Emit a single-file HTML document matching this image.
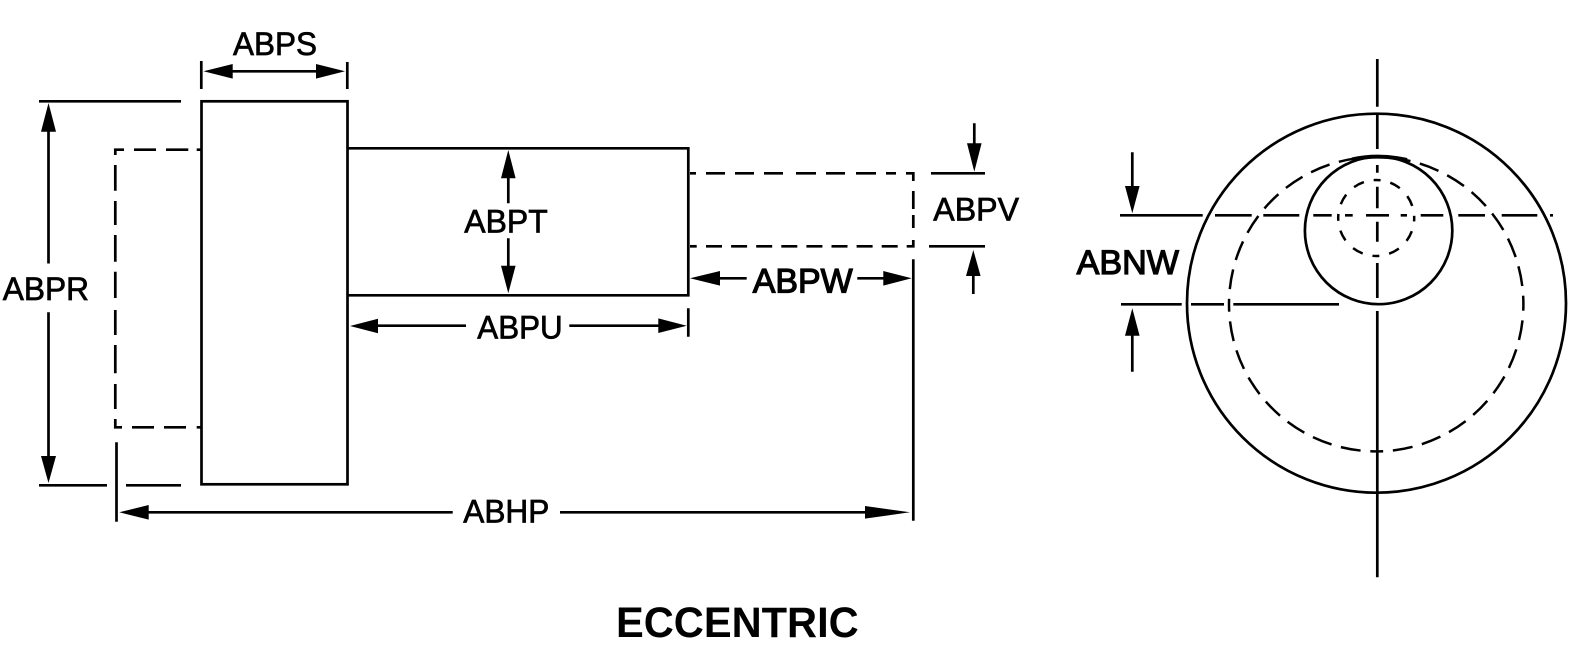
<!DOCTYPE html>
<html><head><meta charset="utf-8"><style>html,body{margin:0;padding:0;background:#fff}svg{display:block}text{font-family:"Liberation Sans",sans-serif;fill:#000}</style></head><body>
<svg width="1586" height="655" viewBox="0 0 1586 655" xmlns="http://www.w3.org/2000/svg">
<rect width="1586" height="655" fill="#fff"/>
<g fill="none" stroke="#000" stroke-width="2.7">
<!-- left view -->
<rect x="201.500" y="101.300" width="146" height="383"/>
<path d="M347.500 148.300H688.300V295.300H347.500"/>
<path d="M39 101.300H181M39 485.300H107M126 485.300H181"/>
<path d="M48.500 130V263.500M48.500 312.300V458"/>
<path d="M201.300 61V89M347.300 62V89M230 71.300H318"/>
<path d="M508.300 176V203.300M508.300 238.300V268"/>
<path d="M376 325.700H466M569.300 325.700H660M688.300 308.300V336.700"/>
<path d="M718 278.300H746.700M857.300 278.300H885"/>
<path d="M913.300 259.300V520.700M116.500 442.300V521.700"/>
<path d="M146 512.300H452.700M560 512.300H867"/>
<path d="M931 173.300H985M929 246.300H985"/>
<path d="M974.300 123.300V145M973.300 274V294"/>
<!-- dashed outlines -->
<path d="M124 149.700H115.300V155M134 149.700H156M166 149.700H188.300M196.700 149.700H201"/>
<path d="M115.300 165V190.700M115.300 201V225M115.300 235V261.700M115.300 271.700V298M115.300 310V335M115.300 345V373.300M115.300 384V409M115.300 419V427.300H122M132 427.300H154M164 427.300H186M196.700 427.300H201"/>
<path d="M690 173.300H696M706 173.300H725M735 173.300H754M764 173.300H783M796 173.300H816M826 173.300H845M856 173.300H876M886 173.300H896M906 173.300H913.300V181M913.300 191V209M913.300 215V228M913.300 240V246.300H906.700"/>
<path d="M690 246.300H696.700"/>
<path d="M706 246.300H897.700" stroke-dasharray="16 9.100"/>
<!-- right view -->
<circle cx="1376.500" cy="303.200" r="189.500"/>
<circle cx="1378.600" cy="230.500" r="73.700"/>
<path d="M1377.300 59V106.700M1377.300 114V149M1377.300 165V172.700M1377.300 186.700V208.300M1377.300 221.700V241.700M1377.300 263V298M1377.300 311V577.300"/>
<path d="M1120 215.300H1202.700M1215 215.300H1251.700M1263.300 215.300H1299.300M1313.300 215.300H1331.700M1345 215.300H1352.700M1366 215.300H1389M1400.700 215.300H1407M1420.700 215.300H1443.300M1458.300 215.300H1485M1501.700 215.300H1537.300M1550 215.300H1553"/>
<path d="M1121 304.300H1181.700M1191 304.300H1224M1233.300 304.300H1339"/>
<path d="M1132.300 152.300V188M1132.300 333V371.700"/>
<circle cx="1376.200" cy="304.200" r="147.200" stroke-dasharray="13 9.700 20 9.700 20 9.700 20 9.700 20 9.700 20 9.700 20 9.700 20 9.700" stroke-dashoffset="6.500" stroke-width="2.500"/>
<circle cx="1376.200" cy="218" r="38" stroke-dasharray="7 10 11 10.900 11 10" stroke-dashoffset="3.500" stroke-width="2.500"/>
<path d="M1352 159.500Q1378 153.500 1407 160" stroke-width="4"/>
</g>
<g fill="#000">
<path d="M203.500 71.300L232.700 64V78.600ZM345 71.300L316 64V78.600Z"/>
<path d="M48.500 103L41 131.700H56ZM48.500 483L41 456H56Z"/>
<path d="M508.300 150L501 178.300H515.600ZM508.300 293.300L501 265.700H515.600Z"/>
<path d="M350 326L378 318.700V333.300ZM686.700 325.700L658.300 318.400V333Z"/>
<path d="M690 278.300L720 271V285.600ZM911.700 278.300L883.300 271V285.600Z"/>
<path d="M119.300 512.300L148.700 505V519.600ZM910 512.300L865 506V518.600Z"/>
<path d="M974.300 171.700L967 143.300H981.600ZM973.300 250L966 276H980.600Z"/>
<path d="M1132.300 213.300L1125 186H1139.600ZM1132.300 308.300L1125 335.700H1139.600Z"/>
</g>
<g font-size="32" stroke="#000" stroke-width=".7">
<text x="233" y="55" textLength="84" lengthAdjust="spacingAndGlyphs">ABPS</text>
<text x="2.700" y="300" textLength="86.300" lengthAdjust="spacingAndGlyphs">ABPR</text>
<text x="464.300" y="232.500" textLength="83.400" lengthAdjust="spacingAndGlyphs">ABPT</text>
<text x="477.300" y="338.300" textLength="85.400" lengthAdjust="spacingAndGlyphs">ABPU</text>
<text x="752.700" y="292.300" font-size="34" stroke-width="1.200" textLength="100" lengthAdjust="spacingAndGlyphs">ABPW</text>
<text x="933.300" y="220.700" textLength="85.700" lengthAdjust="spacingAndGlyphs">ABPV</text>
<text x="463.300" y="522.300" textLength="86" lengthAdjust="spacingAndGlyphs">ABHP</text>
<text x="1076.700" y="274" font-size="34" stroke-width="1.200" textLength="102.300" lengthAdjust="spacingAndGlyphs">ABNW</text>
</g>
<text x="616" y="637" font-size="43" font-weight="bold" textLength="242.700" lengthAdjust="spacingAndGlyphs">ECCENTRIC</text>
</svg>
</body></html>
